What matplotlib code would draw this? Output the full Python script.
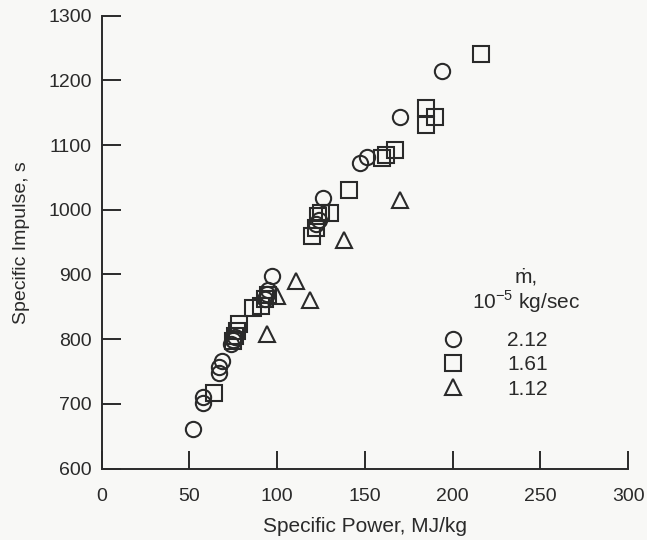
import matplotlib
matplotlib.use('Agg')
import matplotlib.pyplot as plt

plt.rcParams['font.family'] = ['Liberation Sans', 'DejaVu Sans']
plt.rcParams['mathtext.fontset'] = 'custom'
plt.rcParams['mathtext.rm'] = 'Liberation Sans'

# mass flow rate 2.12e-5 kg/sec
power_212 = [52, 58, 58, 67, 67, 68.5, 74, 75, 76, 93, 94, 95, 97, 122, 124, 126, 147, 151, 170, 194]
isp_212 = [661, 701, 711, 747, 757, 767, 792, 798, 804, 862, 870, 876, 897, 978, 985, 1018, 1073, 1081, 1144, 1215]

# mass flow rate 1.61e-5 kg/sec
power_161 = [64, 75, 76, 77, 78, 86, 91, 93, 95, 120, 122, 123, 125, 130, 141, 160, 162, 167, 185, 185, 190, 216]
isp_161 = [717, 797, 805, 812, 824, 848, 852, 862, 868, 960, 972, 990, 995, 995, 1030, 1080, 1085, 1093, 1157, 1131, 1143, 1241]

# mass flow rate 1.12e-5 kg/sec
power_112 = [94, 100, 111, 119, 138, 170]
isp_112 = [808, 866, 890, 860, 953, 1015]

ink = '#2a2a2a'
bg = '#f8f8f6'

fig = plt.figure(figsize=(6.47, 5.4), dpi=100, facecolor=bg)
ax = fig.add_axes([0.157, 0.1324, 0.814, 0.8383], facecolor=bg)

style = dict(linestyle='none', markerfacecolor='none', markeredgecolor=ink,
             markeredgewidth=1.5, markersize=11)
ax.plot(power_212, isp_212, marker='o', label='2.12', **style)
ax.plot(power_161, isp_161, marker='s', label='1.61', **style)
ax.plot(power_112, isp_112, marker='^', label='1.12', **style)

ax.set_xlim(0, 300)
ax.set_ylim(600, 1300)
ax.set_xticks(range(0, 301, 50))
ax.set_yticks(range(600, 1301, 100))

for side in ('top', 'right'):
    ax.spines[side].set_visible(False)
for side in ('left', 'bottom'):
    ax.spines[side].set_color(ink)
    ax.spines[side].set_linewidth(1.4)

ax.tick_params(direction='in', width=1.4, color=ink,
               labelsize=14, labelcolor=ink)
ax.tick_params(axis='x', length=13, pad=14)
ax.tick_params(axis='y', length=14, pad=7)

ax.set_xlabel('Specific Power, MJ/kg', fontsize=15, color=ink, labelpad=9)
ax.set_ylabel('Specific Impulse, s', fontsize=14, color=ink, labelpad=13)

# legend heading, set apart from the marker rows
ax.text(0.807, 0.391, 'ṁ,\n10$^{-5}$ kg/sec', transform=ax.transAxes,
        ha='center', va='center', multialignment='center',
        fontsize=15, color=ink, linespacing=1.1)

leg = ax.legend(frameon=False, loc='center left',
                bbox_to_anchor=(0.628, 0.229),
                fontsize=15, handletextpad=2.0, labelspacing=0.25,
                handlelength=1.2, borderaxespad=0)
for t in leg.get_texts():
    t.set_color(ink)

fig.savefig('out.png', dpi=100, facecolor=bg)
